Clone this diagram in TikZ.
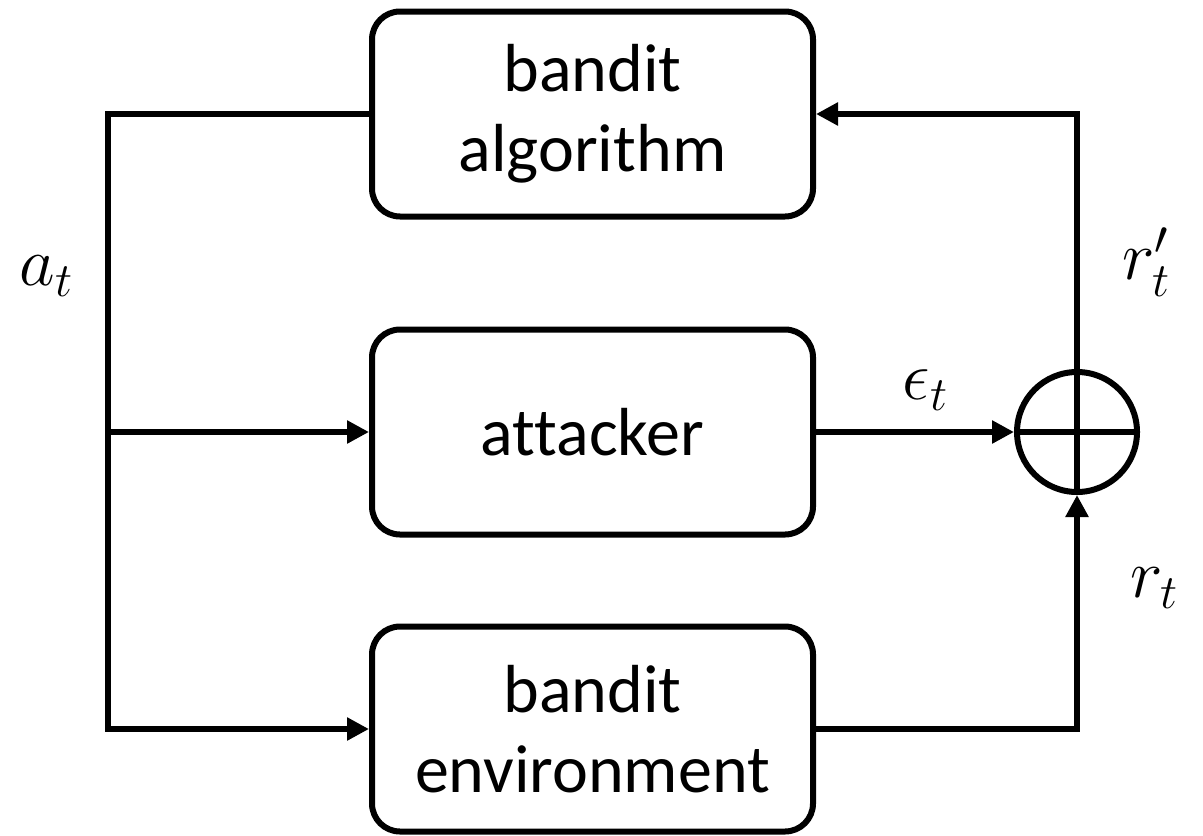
\documentclass[tikz,border=0pt]{standalone}
\usepackage{fontspec}
\setmainfont[Ligatures=NoCommon]{Carlito}
\usetikzlibrary{arrows.meta}

\tikzset{
  blk/.style={draw, line width=3pt, rounded corners=14pt,
    minimum width=220.5pt, minimum height=102.5pt, inner sep=0pt,
    align=center, font=\fontsize{34}{40}\selectfont},
  wire/.style={line width=3pt},
  flow/.style={wire, -{Triangle[length=11pt,width=11pt]}},
  sumnode/.style={draw, circle, line width=3pt, minimum size=60pt, inner sep=0pt},
  sym/.style={inner sep=0pt, font=\fontsize{18}{20}\selectfont, scale=2},
}

\begin{document}
\begin{tikzpicture}[x=0.5pt, y=-0.5pt]
  \useasboundingbox (0,0) rectangle (1203,835);

  % blocks
  \node[blk] (alg) at (592.5,114) {bandit\\algorithm};
  \node[blk] (att) at (592.5,432) {attacker};
  \node[blk] (env) at (592.5,729) {bandit\\environment};

  % summing junction
  \node[sumnode] (sum) at (1077,432) {};
  \draw[wire] (sum.north) -- (sum.south);
  \draw[wire] (sum.west) -- (sum.east);

  % action bus on the left
  \coordinate (lt) at (108,114);
  \coordinate (lb) at (108,729);
  \draw[flow] (alg.west) -- (lt) -- (lb) -- (env.west);
  \draw[flow] (lt |- att.west) -- (att.west);

  % reward paths
  \draw[flow] (att.east) -- (sum.west);
  \draw[flow] (env.east) -| (sum.south);
  \draw[flow] (sum.north) |- (alg.east);

  % signal labels
  \node[sym] (at) at (47,276) {$a_t$};
  \node[sym] (rp) at (1147,262) {$r'_t$};
  \node[sym] (eps) at (926,390) {$\epsilon_t$};
  \node[sym] (rt) at (1155,588) {$r_t$};
\end{tikzpicture}
\end{document}
